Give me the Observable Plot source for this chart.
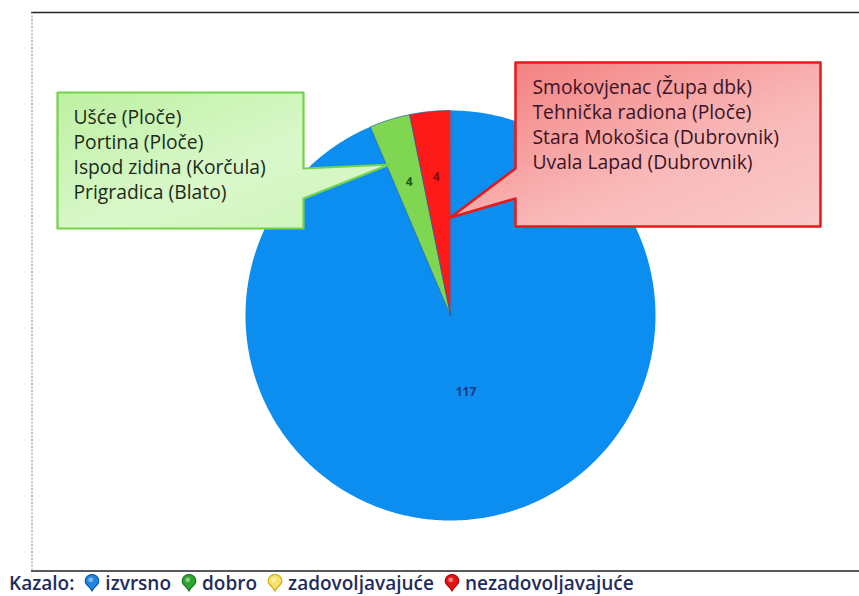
<!DOCTYPE html>
<html><head><meta charset="utf-8">
<script src="https://cdn.jsdelivr.net/npm/d3@7"></script>
<script src="https://cdn.jsdelivr.net/npm/@observablehq/plot@0.6"></script>
<style>
body{margin:0;background:#fff;font-family:"Open Sans",Lato,sans-serif;}
#chart svg{display:block;}
#legend{height:22px;line-height:1;display:flex;align-items:center;padding-left:9px;font-weight:600;font-size:19px;color:#1f2d5c;white-space:nowrap;}
#legend span{line-height:1;}
#legend svg{margin:0 5px 0 10px;}
</style></head>
<body>
<div id="chart"></div>
<div id="legend"></div>
<script>
const categories = ["izvrsno", "dobro", "zadovoljavajuće", "nezadovoljavajuće"];
const counts = [117, 4, 0, 4];
const sliceColors = ["#0b8ef0", "#7fd650", "#f7e25a", "#ff1a1a"];
const labelColors = ["#1a3a80", "#1d5a12", "#5a4a00", "#8a0a0a"];
const iconColors = ["#1d86e0", "#2ba52b", "#f6e26a", "#e41414"];
const iconStroke = ["#0a4f9a", "#13701a", "#c9a300", "#a00000"];
const greenSites = ["Ušće (Ploče)", "Portina (Ploče)", "Ispod zidina (Korčula)", "Prigradica (Blato)"];
const redSites = ["Smokovjenac (Župa dbk)", "Tehnička radiona (Ploče)", "Stara Mokošica (Dubrovnik)", "Uvala Lapad (Dubrovnik)"];
const legendTitle = "Kazalo:";

const W = 859, H = 572;
const cx = 450, cy = 315, R = 205;

const pie = d3.pie().sort(null).value(d => d.count)(categories.map((c, i) => ({cat: c, count: counts[i], i})));
const pt = (a, r) => ({x: cx + Math.sin(a) * r, y: cy - Math.cos(a) * r});

const sliceMarks = pie.filter(s => s.data.count > 0).map(s => {
  const pts = [{x: cx, y: cy}];
  const n = Math.max(4, Math.ceil((s.endAngle - s.startAngle) / 0.01));
  for (let k = 0; k <= n; k++) pts.push(pt(s.startAngle + (s.endAngle - s.startAngle) * k / n, R));
  const small = s.data.count < 10;
  return Plot.line(pts, {x: "x", y: "y", curve: "linear-closed", fill: sliceColors[s.data.i],
    stroke: small ? "#1e5aa0" : "none", strokeWidth: 0.7});
});
const labels = pie.filter(s => s.data.count > 0).map(s => {
  const a = (s.startAngle + s.endAngle) / 2;
  const p = pt(a, s.data.count < 10 ? R * 0.68 : R * 0.38);
  return {...p, text: String(s.data.count), color: labelColors[s.data.i]};
});

const greenBox = [[57,92],[303,92],[303,168],[389,164],[303,198],[303,228],[57,228]].map(([x,y]) => ({x,y}));
const redBox = [[515,62],[820,62],[820,226],[515,226],[515,198],[450,217],[515,168]].map(([x,y]) => ({x,y}));
const greenText = greenSites.map((t, k) => ({x: 73, y: 117 + 25 * k, text: t}));
const redText = redSites.map((t, k) => ({x: 532, y: 87 + 25 * k, text: t}));

const svg = Plot.plot({
  width: W, height: H,
  margin: 0,
  x: {domain: [0, W], range: [0, W], axis: null},
  y: {domain: [0, H], range: [0, H], axis: null},
  style: {background: "#fff", fontFamily: "'Open Sans', Lato, sans-serif"},
  marks: [
    Plot.ruleY([12], {x1: 31, x2: W + 5, stroke: "#222", strokeWidth: 1.5}),
    Plot.ruleY([570.5], {x1: 31, x2: W + 5, stroke: "#222", strokeWidth: 1.5}),
    Plot.ruleX([31.5], {y1: 12, y2: 571, stroke: "#888", strokeDasharray: "2,1.5", strokeWidth: 1}),
    ...sliceMarks,
    Plot.text(labels, {x: "x", y: "y", text: "text", fill: d => d.color, fontSize: 12, fontWeight: 700}),
    Plot.line(greenBox, {x: "x", y: "y", curve: "linear-closed", fill: "url(#gGreen)", stroke: "#72d34a", strokeWidth: 2.2}),
    Plot.line(redBox, {x: "x", y: "y", curve: "linear-closed", fill: "url(#gRed)", stroke: "#e61a1a", strokeWidth: 2.5}),
    Plot.text(greenText, {x: "x", y: "y", text: "text", textAnchor: "start", fill: "#1c2a1c", fontSize: 19.3}),
    Plot.text(redText, {x: "x", y: "y", text: "text", textAnchor: "start", fill: "#3a1424", fontSize: 19.3})
  ]
});
const defs = d3.select(svg).insert("defs", ":first-child");
const gg = defs.append("linearGradient").attr("id", "gGreen").attr("x1", 0).attr("y1", 0).attr("x2", 1).attr("y2", 1);
gg.append("stop").attr("offset", 0).attr("stop-color", "#bdf0a2");
gg.append("stop").attr("offset", 0.55).attr("stop-color", "#daf8ca");
gg.append("stop").attr("offset", 1).attr("stop-color", "#cdf4b8");
const gr = defs.append("linearGradient").attr("id", "gRed").attr("x1", 0).attr("y1", 0).attr("x2", 1).attr("y2", 1);
gr.append("stop").attr("offset", 0).attr("stop-color", "#f37878");
gr.append("stop").attr("offset", 0.6).attr("stop-color", "#f9b8b8");
gr.append("stop").attr("offset", 1).attr("stop-color", "#fbcaca");
document.getElementById("chart").appendChild(svg);

// legend
const leg = document.getElementById("legend");
const t0 = document.createElement("span"); t0.textContent = legendTitle; leg.appendChild(t0);
categories.forEach((c, i) => {
  const ns = "http://www.w3.org/2000/svg";
  const s = document.createElementNS(ns, "svg");
  s.setAttribute("width", 16); s.setAttribute("height", 18); s.setAttribute("viewBox", "0 0 15 17");
  const p = document.createElementNS(ns, "path");
  p.setAttribute("d", "M7.5 16 C5.5 12 1 10 1 6.5 A6.5 6 0 0 1 14 6.5 C14 10 9.5 12 7.5 16 Z");
  p.setAttribute("fill", iconColors[i]); p.setAttribute("stroke", iconStroke[i]); p.setAttribute("stroke-width", 1);
  s.appendChild(p);
  const h = document.createElementNS(ns, "circle");
  h.setAttribute("cx", 6.3); h.setAttribute("cy", 5.5); h.setAttribute("r", 2.3); h.setAttribute("fill", "rgba(255,255,255,0.45)");
  s.appendChild(h);
  leg.appendChild(s);
  const t = document.createElement("span"); t.textContent = c; leg.appendChild(t);
});
</script>
</body></html>
